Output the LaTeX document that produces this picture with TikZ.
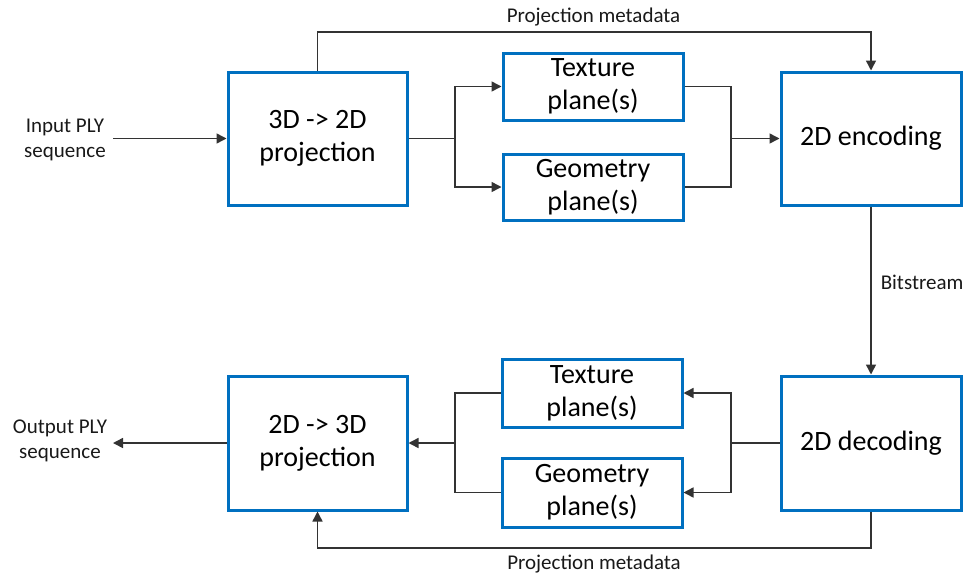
\documentclass[tikz,border=0pt]{standalone}
\usepackage{fontspec}
\setmainfont{Carlito}
\usetikzlibrary{arrows.meta}
\definecolor{boxblue}{HTML}{0070C0}
\definecolor{linegray}{HTML}{333333}
\begin{document}
\begin{tikzpicture}[x=1pt,y=-1pt,
  blk/.style={draw=boxblue,line width=3pt,fill=white,inner sep=0pt,align=center,
    font=\fontsize{28}{33}\selectfont,text=black},
  lbl/.style={font=\fontsize{21}{25}\selectfont,align=center,text=black!90,inner sep=0pt},
  conn/.style={draw=linegray,line width=1.5pt},
  arr/.style={conn,-{Triangle[length=10pt,width=10pt]}}]
\useasboundingbox (0,0) rectangle (968,576);
% top row
\node[blk,minimum width=179pt,minimum height=133pt] (proj) at (317.5,138.5) {3D -> 2D\\projection};
\node[blk,minimum width=180pt,minimum height=67pt] (tex1) at (593,86.5) {Texture\\plane(s)};
\node[blk,minimum width=180pt,minimum height=66pt] (geo1) at (593,187) {Geometry\\plane(s)};
\node[blk,minimum width=180pt,minimum height=133pt] (enc) at (871,138.5) {2D encoding};
% bottom row
\node[blk,minimum width=179pt,minimum height=134pt] (rproj) at (317.5,443) {2D -> 3D\\projection};
\node[blk,minimum width=180pt,minimum height=68pt] (tex2) at (592,393) {Texture\\plane(s)};
\node[blk,minimum width=180pt,minimum height=69pt] (geo2) at (592,492.5) {Geometry\\plane(s)};
\node[blk,minimum width=180pt,minimum height=134pt] (dec) at (871,443) {2D decoding};
% labels
\node[lbl] (inlbl) at (65,139.5) {Input PLY\\sequence};
\node[lbl] (outlbl) at (60,441) {Output PLY\\sequence};
\node[lbl] (meta1) at (593.5,17) {Projection metadata};
\node[lbl] (meta2) at (594,564) {Projection metadata};
\coordinate (inend) at (113,138.5);
\coordinate (outend) at (113,443);
\coordinate (s1) at (455,138.5);
\coordinate (m1) at (731,138.5);
\coordinate (s2) at (731,443);
\coordinate (m2) at (455,443);
% connectors top
\draw[arr] (inend) -- (proj.west);
\draw[conn] (proj.east) -- (s1);
\draw[arr] (s1) |- (tex1.west);
\draw[arr] (s1) |- (geo1.west);
\draw[conn] (tex1.east) -| (m1);
\draw[conn] (geo1.east) -| (m1);
\draw[arr] (m1) -- (enc.west);
\draw[arr] (proj.north) -- (317.5,32) -| (enc.north);
% bitstream
\draw[arr] (enc.south) -- node[lbl,right=9pt,pos=0.45] (bits) {Bitstream} (dec.north);
% connectors bottom
\draw[conn] (dec.west) -- (s2);
\draw[arr] (s2) |- (tex2.east);
\draw[arr] (s2) |- (geo2.east);
\draw[conn] (tex2.west) -| (m2);
\draw[conn] (geo2.west) -| (m2);
\draw[arr] (m2) -- (rproj.east);
\draw[arr] (rproj.west) -- (outend);
\draw[arr] (dec.south) -- (871,548) -| (rproj.south);
\end{tikzpicture}
\end{document}
